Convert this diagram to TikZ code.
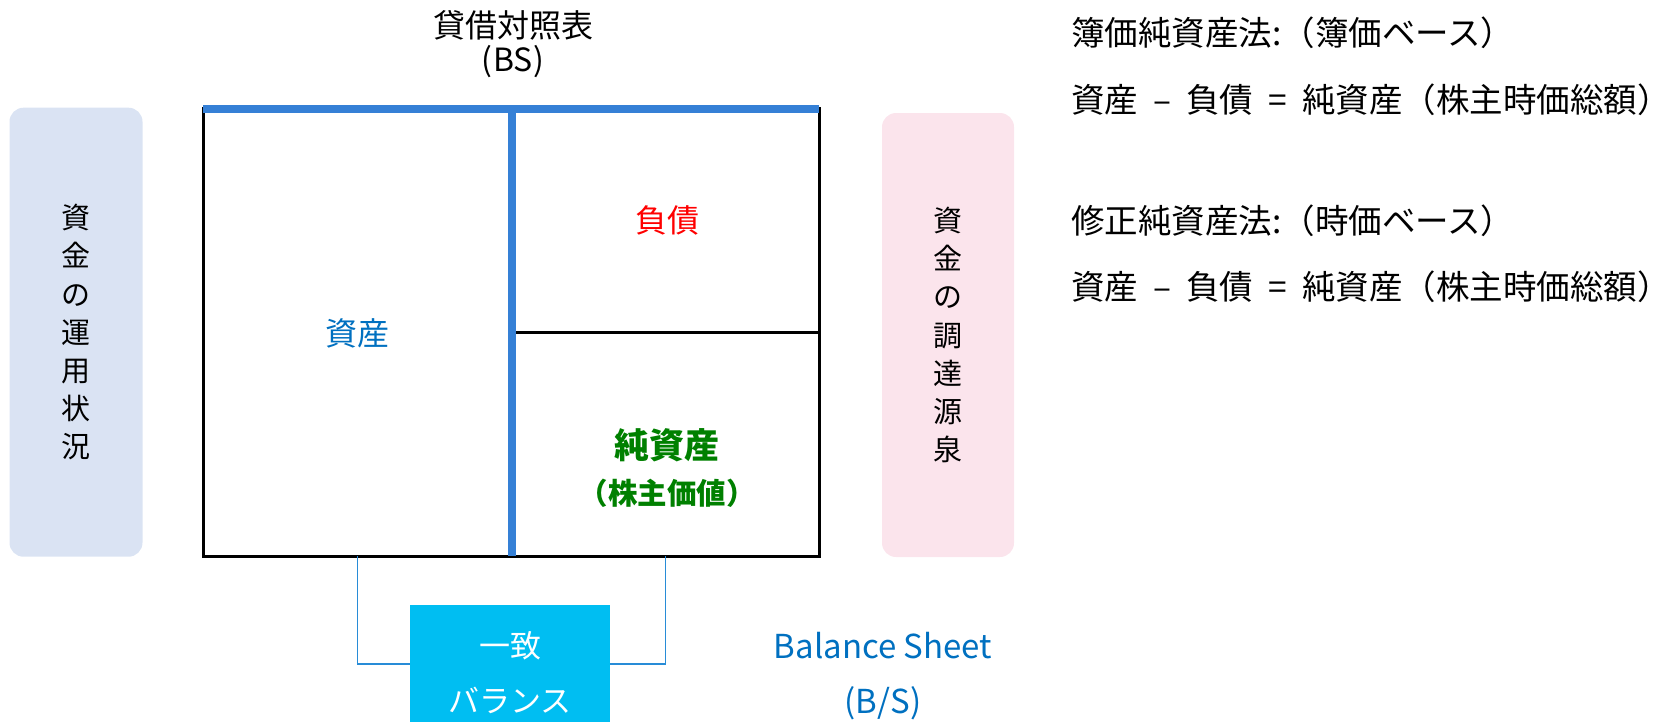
\documentclass[tikz,border=0pt]{standalone}
\usepackage{fontspec}
\setmainfont{Noto Sans CJK JP}
\definecolor{bsblue}{RGB}{53,128,214}
\definecolor{linkblue}{RGB}{40,140,215}
\definecolor{txtblue}{RGB}{0,112,192}
\definecolor{usepanel}{RGB}{218,227,243}
\definecolor{srcpanel}{RGB}{251,228,236}
\definecolor{matchcyan}{RGB}{0,190,242}
\definecolor{eqgreen}{RGB}{0,128,0}
\begin{document}
\begin{tikzpicture}[x=1pt,y=-1pt,
  txt/.style={inner sep=0pt, font=\fontsize{32}{38}\selectfont},
  rtxt/.style={inner sep=0pt, anchor=west, font=\fontsize{33.5}{40}\selectfont},
  vtxt/.style={inner sep=0pt, align=center, font=\fontsize{29}{38.2}\selectfont},
  panel/.style={draw=none, rounded corners=14pt, minimum width=#1},
  cell/.style={draw=none, inner sep=0pt},
  frame/.style={draw=black, line width=3pt},
  bsline/.style={draw=bsblue, line width=8pt},
  conn/.style={draw=linkblue, line width=1.5pt},
  matchbox/.style={fill=matchcyan, draw=none, inner sep=0pt, minimum width=200pt, minimum height=118pt}]
\useasboundingbox (0,0) rectangle (1678,721);

% side panels
\node[panel=133pt, fill=usepanel, minimum height=449pt, vtxt] (usep) at (76,332.2) {資\\金\\の\\運\\用\\状\\況};
\node[panel=132pt, fill=srcpanel, minimum height=444pt, vtxt] (srcp) at (948,335) {資\\金\\の\\調\\達\\源\\泉};

% title
\node[txt] (title) at (513,25) {貸借対照表};
\node[txt] (titlebs) at (513,62) {(\kern1pt BS\kern1pt)};

% cells
\node[cell, minimum width=309pt, minimum height=448pt] (asset) at (357.5,332) {};
\node[cell, minimum width=307pt, minimum height=224pt] (liab) at (665.5,220) {};
\node[cell, minimum width=307pt, minimum height=224pt] (equity) at (665.5,444) {};

% frame and lines
\draw[frame] (203,108) rectangle (819,556);
\draw[frame] (512,332) -- (819,332);
\draw[bsline] (203,108.5) -- (819,108.5);
\draw[bsline] (512,108) -- (512,556);

% cell labels
\node[txt, text=txtblue] (assetlbl) at (357.5,333) {資産};
\node[txt, text=red] (liablbl) at (667,220) {負債};
\node[txt, text=eqgreen, font=\fontsize{35}{40}\selectfont\bfseries] (eqlbl) at (667,445) {純資産};
\node[txt, text=eqgreen, font=\fontsize{29.5}{38}\selectfont\bfseries] (eqsub) at (667,493) {（株主価値）};

% match box
\node[matchbox] (match) at (510,664) {};
\node[txt, text=white, align=center, font=\fontsize{31}{55}\selectfont] (matchtxt) at (510,673) {一致\\バランス};
\draw[conn] (asset.south) |- (match.west);
\draw[conn] (equity.south) |- (match.east);

% balance sheet label
\node[txt, text=txtblue, font=\fontsize{33}{40}\selectfont] (bsname) at (883,646) {Balance Sheet};
\node[txt, text=txtblue, font=\fontsize{33}{40}\selectfont] (bsabbr) at (883,703) {(B/S)};

% right texts
\node[rtxt] (m1) at (1071,33) {簿価純資産法:（簿価ベース）};
\node[rtxt] (e1) at (1071,100) {資産\hspace{0.45em}–\hspace{0.45em}負債\hspace{0.45em}=\hspace{0.45em}純資産（株主時価総額）};
\node[rtxt] (m2) at (1071,221) {修正純資産法:（時価ベース）};
\node[rtxt] (e2) at (1071,287) {資産\hspace{0.45em}–\hspace{0.45em}負債\hspace{0.45em}=\hspace{0.45em}純資産（株主時価総額）};
\end{tikzpicture}
\end{document}
